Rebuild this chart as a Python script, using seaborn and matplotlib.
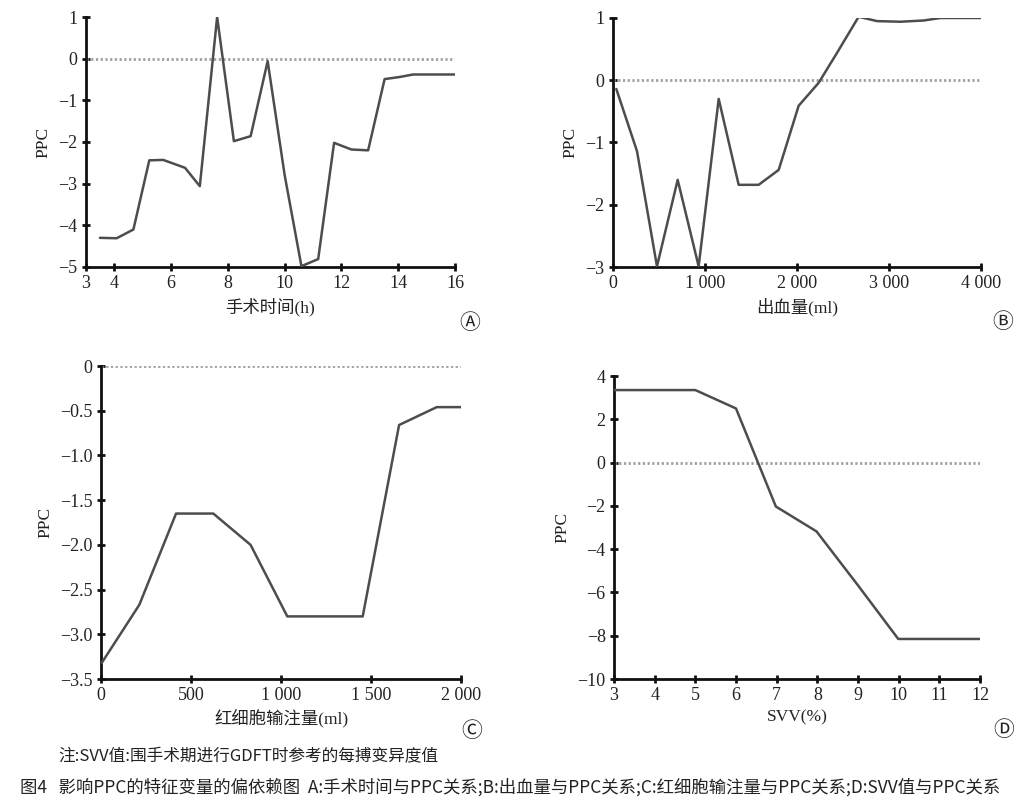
import numpy as np
import pandas as pd
import matplotlib
matplotlib.use("Agg")
import matplotlib.pyplot as plt
import matplotlib.ticker as mticker
import seaborn as sns

# ---------------- data ----------------
a_time = [3.49, 4.08, 4.67, 5.23, 5.72, 6.49, 7.01, 7.62, 8.21, 8.80, 9.40, 10.0, 10.59,
          11.18, 11.74, 12.35, 12.94, 13.52, 14.05, 14.52, 15.23, 16.0]
a_ppc = [-4.30, -4.31, -4.10, -2.44, -2.43, -2.62, -3.06, 1.00, -1.98, -1.86, -0.06, -2.80,
         -4.98, -4.81, -2.02, -2.18, -2.20, -0.49, -0.44, -0.38, -0.38, -0.38]

b_blood = [36, 261, 478, 703, 931, 1149, 1366, 1583, 1801, 2018, 2236, 2435, 2670,
           2870, 3123, 3377, 3558, 4000]
b_ppc = [-0.14, -1.14, -2.99, -1.60, -2.99, -0.30, -1.68, -1.68, -1.44, -0.41, -0.04,
         0.44, 1.02, 0.95, 0.94, 0.96, 1.00, 1.00]

c_rbc = [4, 213, 417, 624, 831, 1035, 1454, 1656, 1865, 2000]
c_ppc = [-3.32, -2.67, -1.65, -1.65, -2.00, -2.80, -2.80, -0.66, -0.46, -0.46]

d_svv = [3.0, 5.0, 6.0, 6.98, 7.98, 8.99, 9.99, 12.0]
d_ppc = [3.35, 3.35, 2.50, -2.03, -3.18, -5.65, -8.15, -8.15]

a_xticks = [3, 4, 6, 8, 10, 12, 14, 16]
a_yticks = [1, 0, -1, -2, -3, -4, -5]
b_xticks = [0, 1000, 2000, 3000, 4000]
b_yticks = [1, 0, -1, -2, -3]
c_xticks = [0, 500, 1000, 1500, 2000]
c_yticks = [0, -0.5, -1.0, -1.5, -2.0, -2.5, -3.0, -3.5]
d_xticks = [3, 4, 5, 6, 7, 8, 9, 10, 11, 12]
d_yticks = [4, 2, 0, -2, -4, -6, -8, -10]

x_labels = ["手术时间(h)", "出血量(ml)", "红细胞输注量(ml)", "SVV(%)"]
panel_tags = ["Ⓐ", "Ⓑ", "Ⓒ", "Ⓓ"]
note_text = "注:SVV值:围手术期进行GDFT时参考的每搏变异度值"
caption_text = ("图4   影响PPC的特征变量的偏依赖图  A:手术时间与PPC关系;B:出血量与PPC关系;"
                "C:红细胞输注量与PPC关系;D:SVV值与PPC关系")

# ---------------- style ----------------
sns.set_style("ticks")
FAM = ["Liberation Serif", "Noto Sans CJK SC", "DejaVu Sans"]
plt.rcParams["font.family"] = FAM
plt.rcParams["axes.unicode_minus"] = True

LINE = "#4d4d4d"
TXT = "#222222"

fig = plt.figure(figsize=(10.24, 8.05), dpi=100)
fig.patch.set_facecolor("white")

W, H = 1024, 805
def rect(l, r, t, b):
    return [l / W, (H - b) / H, (r - l) / W, (b - t) / H]

axes_rects = [rect(86, 455, 17, 267), rect(613, 981, 18, 267),
              rect(101, 461, 366, 679), rect(614, 980, 376, 679)]
datasets = [(a_time, a_ppc), (b_blood, b_ppc), (c_rbc, c_ppc), (d_svv, d_ppc)]
xlims = [(3, 16), (0, 4000), (0, 2000), (3, 12)]
ylims = [(-5, 1), (-3, 1), (-3.5, 0), (-10, 4)]
xticks = [a_xticks, b_xticks, c_xticks, d_xticks]
yticks = [a_yticks, b_yticks, c_yticks, d_yticks]
tag_pos = [(470, 323), (1003, 322), (472, 731), (1004, 730)]

def thousands(v, pos):
    v = int(round(v))
    if abs(v) >= 1000:
        return f"{v:,}".replace(",", " ")
    return str(v)

def minus_fmt(decimals):
    def f(v, pos):
        if abs(v) < 1e-9:
            return "0"
        s = f"{abs(v):.{decimals}f}"
        return ("\u2212" + s) if v < 0 else s
    return f

for i in range(4):
    ax = fig.add_axes(axes_rects[i])
    xs, ys = datasets[i]
    df = pd.DataFrame({"x": xs, "y": ys})
    ax.axhline(0, color="#a0a0a0", lw=2.0, ls=(0, (0.8, 0.9)), zorder=1)
    sns.lineplot(data=df, x="x", y="y", ax=ax, color=LINE, lw=1.8,
                 estimator=None, sort=False, zorder=3)
    ax.set_xlim(*xlims[i])
    ax.set_ylim(*ylims[i])
    ax.set_xticks(xticks[i])
    ax.set_yticks(yticks[i])
    if i in (1, 2):
        ax.xaxis.set_major_formatter(mticker.FuncFormatter(thousands))
    else:
        ax.xaxis.set_major_formatter(mticker.FuncFormatter(lambda v, p: str(int(round(v)))))
    ax.yaxis.set_major_formatter(mticker.FuncFormatter(minus_fmt(1 if i == 2 else 0)))
    sns.despine(ax=ax)
    for s in ("left", "bottom"):
        ax.spines[s].set_linewidth(2.0)
        ax.spines[s].set_color("#111111")
    ax.tick_params(axis="both", direction="inout", length=6, width=2.0,
                   color="#111111", labelsize=13, labelcolor=TXT, pad=3)
    ax.set_xlabel(x_labels[i], fontsize=12.5, color=TXT, labelpad=4)
    ax.set_ylabel("PPC", fontsize=12.5, color=TXT, labelpad=5)
    ax.set_facecolor("white")
    tx, ty = tag_pos[i]
    fig.text(tx / W, 1 - ty / H, panel_tags[i], fontsize=15, color=TXT,
             ha="center", va="center",
             family=["Noto Sans CJK SC", "Noto Sans CJK JP", "DejaVu Sans"])

fig.text(58 / W, 1 - 757 / H, note_text, fontsize=12, color=TXT, ha="left", va="center",
         family=["Noto Sans CJK SC", "DejaVu Sans"])
fig.text(20 / W, 1 - 787 / H, caption_text, fontsize=12.5, color=TXT, ha="left", va="center",
         family=["Noto Sans CJK SC", "DejaVu Sans"])

fig.savefig("out.png", dpi=100, facecolor="white")
